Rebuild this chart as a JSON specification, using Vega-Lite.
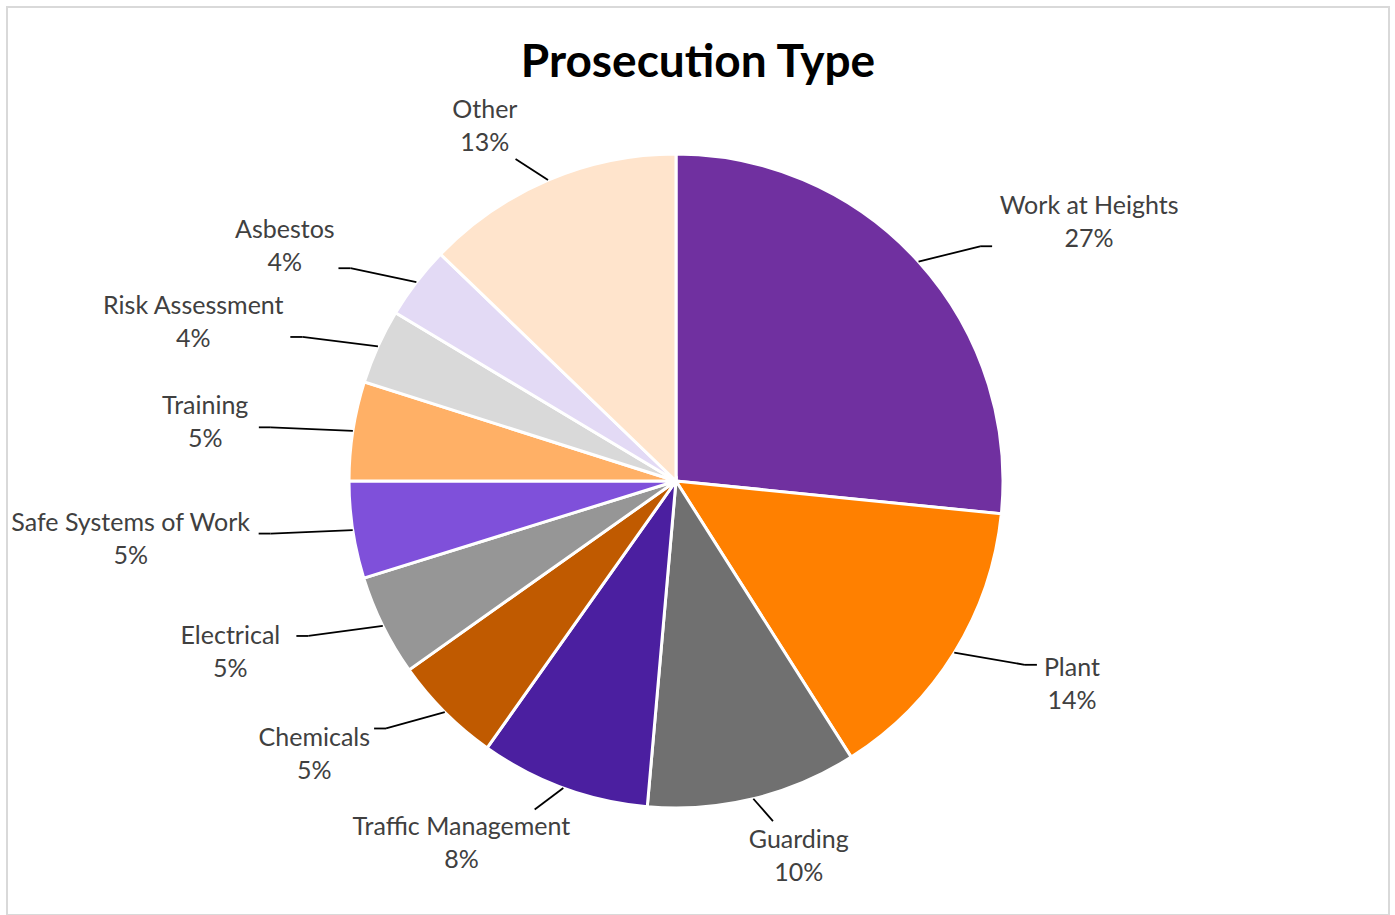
{
  "$schema": "https://vega.github.io/schema/vega-lite/v6.json",
  "width": 1382,
  "height": 908,
  "autosize": {"type": "none"},
  "padding": {"left": 7, "top": 7, "right": 6, "bottom": 0},
  "background": "white",
  "config": {"view": {"stroke": "#d9d9d9", "strokeWidth": 2}},
  "title": {"text": "Prosecution Type", "font": "Lato", "fontSize": 46, "fontWeight": "bold", "color": "#000000", "offset": -80, "anchor": "middle"},
  "params": [
    {"name": "R", "value": 327},
    {"name": "RAX", "value": 410},
    {"name": "RAY", "value": 350}
  ],
  "data": {
    "values": [
      {"order": 1, "category": "Work at Heights", "value": 26.6},
      {"order": 2, "category": "Plant", "value": 14.4},
      {"order": 3, "category": "Guarding", "value": 10.4},
      {"order": 4, "category": "Traffic Management", "value": 8.4},
      {"order": 5, "category": "Chemicals", "value": 5.4},
      {"order": 6, "category": "Electrical", "value": 5.0},
      {"order": 7, "category": "Safe Systems of Work", "value": 4.8},
      {"order": 8, "category": "Training", "value": 4.9},
      {"order": 9, "category": "Risk Assessment", "value": 3.7},
      {"order": 10, "category": "Asbestos", "value": 3.6},
      {"order": 11, "category": "Other", "value": 12.8}
    ]
  },
  "transform": [
    {"joinaggregate": [{"op": "sum", "field": "value", "as": "total"}]},
    {"window": [{"op": "sum", "field": "value", "as": "cum"}], "sort": [{"field": "order", "order": "ascending"}], "frame": [null, 0]},
    {"calculate": "(datum.cum - datum.value / 2) / datum.total * 2 * PI", "as": "mid"},
    {"calculate": "format(datum.value / datum.total, '.0%')", "as": "pct"},
    {"calculate": "sin(datum.mid) >= 0 ? 1 : -1", "as": "side"},
    {"calculate": "R * sin(datum.mid)", "as": "ex"},
    {"calculate": "R * cos(datum.mid)", "as": "ey"},
    {"calculate": "RAX * sin(datum.mid)", "as": "ax"},
    {"calculate": "RAY * cos(datum.mid)", "as": "ay"},
    {"calculate": "datum.ax + datum.side * 12", "as": "sx"},
    {"calculate": "length(datum.category) * 6.2", "as": "halfW"},
    {"calculate": "datum.ax + datum.side * (datum.halfW + 16) * min(1, abs(sin(datum.mid)) / 0.6)", "as": "lx"},
    {"calculate": "datum.ay + cos(datum.mid) * 36", "as": "ly"}
  ],
  "encoding": {
    "x": {"type": "quantitative", "scale": {"domain": [-669, 713]}, "axis": null},
    "y": {"type": "quantitative", "scale": {"domain": [-434, 474]}, "axis": null}
  },
  "layer": [
    {
      "mark": {"type": "arc", "outerRadius": 327, "stroke": "white", "strokeWidth": 3},
      "encoding": {
        "x": {"datum": 0, "type": "quantitative", "scale": {"domain": [-669, 713]}, "axis": null},
        "y": {"datum": 0, "type": "quantitative", "scale": {"domain": [-434, 474]}, "axis": null},
        "theta": {"field": "value", "type": "quantitative", "stack": true},
        "order": {"field": "order", "type": "quantitative"},
        "color": {
          "field": "category",
          "type": "nominal",
          "legend": null,
          "scale": {
            "domain": ["Work at Heights", "Plant", "Guarding", "Traffic Management", "Chemicals", "Electrical", "Safe Systems of Work", "Training", "Risk Assessment", "Asbestos", "Other"],
            "range": ["#7030A0", "#FF8000", "#707070", "#4B1FA0", "#C05A00", "#969696", "#7F50DA", "#FFB066", "#D9D9D9", "#E3DAF5", "#FFE4CC"]
          }
        }
      }
    },
    {
      "mark": {"type": "rule", "color": "#000000", "strokeWidth": 1.8},
      "encoding": {
        "x": {"field": "ex", "type": "quantitative"},
        "y": {"field": "ey", "type": "quantitative"},
        "x2": {"field": "ax"},
        "y2": {"field": "ay"}
      }
    },
    {
      "transform": [{"filter": "abs(sin(datum.mid)) > 0.6"}],
      "mark": {"type": "rule", "color": "#000000", "strokeWidth": 1.8},
      "encoding": {
        "x": {"field": "ax", "type": "quantitative"},
        "y": {"field": "ay", "type": "quantitative"},
        "x2": {"field": "sx"},
        "y2": {"field": "ay"}
      }
    },
    {
      "mark": {"type": "text", "font": "Lato", "fontSize": 25, "color": "#404040", "align": "center", "baseline": "middle", "dy": -16},
      "encoding": {
        "x": {"field": "lx", "type": "quantitative"},
        "y": {"field": "ly", "type": "quantitative"},
        "text": {"field": "category", "type": "nominal"}
      }
    },
    {
      "mark": {"type": "text", "font": "Lato", "fontSize": 25, "color": "#404040", "align": "center", "baseline": "middle", "dy": 17},
      "encoding": {
        "x": {"field": "lx", "type": "quantitative"},
        "y": {"field": "ly", "type": "quantitative"},
        "text": {"field": "pct", "type": "nominal"}
      }
    }
  ]
}
